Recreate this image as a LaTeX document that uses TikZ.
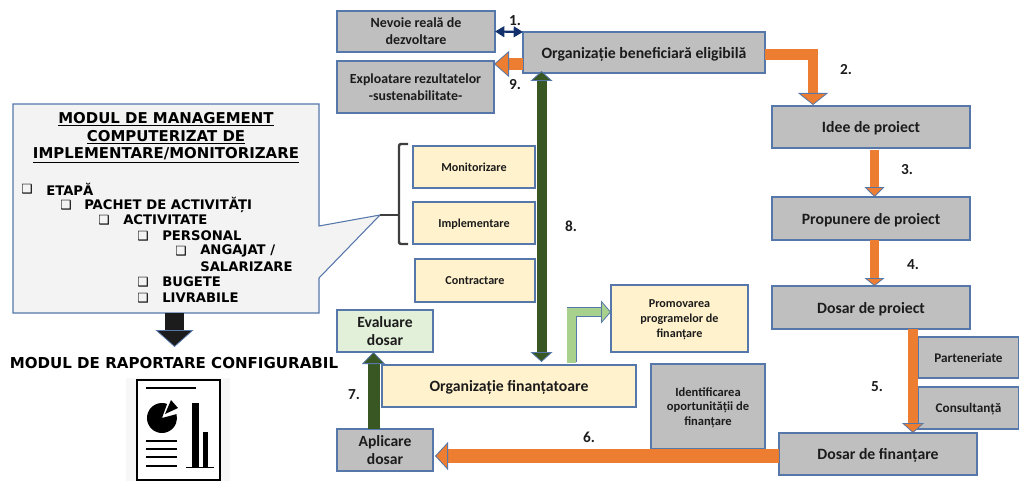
\documentclass[tikz,border=0pt]{standalone}
\usepackage{fontspec}
\setmainfont{Carlito}
\newfontfamily\heavy{DejaVu Sans}
\usetikzlibrary{arrows.meta}
\definecolor{bordc}{HTML}{5577AA}
\definecolor{greyc}{HTML}{BFBFBF}
\definecolor{yellowc}{HTML}{FFF2CC}
\definecolor{mintc}{HTML}{E2F0D9}
\definecolor{panelc}{HTML}{F3F3F3}
\definecolor{orangec}{HTML}{ED7D31}
\definecolor{forestc}{HTML}{385723}
\definecolor{navyc}{HTML}{12306B}
\definecolor{lightg}{HTML}{A9D18E}
\definecolor{inkc}{HTML}{1C1C1C}
\def\u{.75pt}
\newcommand\bx[7]{%
  \pgfmathsetmacro\bxw{(#5-#3)*.75}\pgfmathsetmacro\bxh{(#6-#4)*.75}%
  \pgfmathsetmacro\bxx{(#3+#5)/2}\pgfmathsetmacro\bxy{(#4+#6)/2}%
  \node[#2,minimum width=\bxw pt,minimum height=\bxh pt] (#1) at (\bxx,\bxy) {#7};}
\tikzset{
  boxbase/.style={draw=bordc,line width=.8pt,outer sep=0pt,inner sep=1pt,align=center,text=inkc,text depth=0pt},
  greybox/.style={boxbase,fill=greyc},
  yellowbox/.style={boxbase,fill=yellowc},
  mintbox/.style={boxbase,fill=mintc},
  numlab/.style={font=\bfseries\fontsize{11.5}{12}\selectfont,text=inkc,inner sep=0pt},
  tiporange/.style={-{Triangle[length=#1*.75pt,width=20*.75pt,fill=orangec,color=bordc,line width=.6pt]}},
  flowarrow/.style={draw=orangec,line width=9*.75pt,line join=miter},
  titleline/.style={font=\heavy\bfseries\fontsize{11.2}{12}\selectfont,inner sep=0pt,text=black},
  listline/.style={font=\heavy\bfseries\fontsize{9.9}{11}\selectfont,inner sep=0pt,anchor=west,text=black},
  chk/.style={font=\heavy\fontsize{9.5}{10}\selectfont,inner sep=0pt,text=black},
  iconline/.style={draw=black,line width=1.1pt},
}
\begin{document}
\begin{tikzpicture}[x=.75pt,y=-.75pt]
\useasboundingbox (0,0) rectangle (1019,481);
% callout
\coordinate (tip) at (380,215);
\draw[draw=bordc,line width=.8pt,fill=panelc] (13,104) -- (319,104) -- (319,226) -- (tip) -- (319,278) -- (319,313) -- (13,313) -- cycle;
\node[titleline] (t1) at (166,119) {\underline{MODUL DE MANAGEMENT}};
\node[titleline] (t2) at (166,137) {\underline{COMPUTERIZAT DE}};
\node[titleline] (t3) at (166,155) {\underline{IMPLEMENTARE/MONITORIZARE}};
\node[chk] (c1) at (27,189) {❑}; \node[listline] (l1) at (46,189) {ETAPĂ};
\node[chk] (c2) at (66,205) {❑}; \node[listline] (l2) at (84,205) {PACHET DE ACTIVITĂȚI};
\node[chk] (c3) at (104,220) {❑}; \node[listline] (l3) at (123,220) {ACTIVITATE};
\node[chk] (c4) at (143,236) {❑}; \node[listline] (l4) at (162,236) {PERSONAL};
\node[chk] (c5) at (181,251) {❑}; \node[listline] (l5) at (200,251) {ANGAJAT /};
\node[listline] (l6) at (200,267) {SALARIZARE};
\node[chk] (c7) at (143,282) {❑}; \node[listline] (l7) at (162,282) {BUGETE};
\node[chk] (c8) at (143,298) {❑}; \node[listline] (l8) at (162,298) {LIVRABILE};
% reporting
\coordinate (panelbottom) at (174.5,313);
\node[font=\heavy\bfseries\fontsize{11.3}{12}\selectfont,inner sep=0pt,text=black] (rep) at (174,363) {MODUL DE RAPORTARE CONFIGURABIL};
\coordinate (reptop) at (174.5,347);
\draw[draw=inkc,line width=19*.75pt,-{Triangle[length=17*.75pt,width=38*.75pt,fill=inkc,color=bordc,line width=.6pt]}] (panelbottom) -- (reptop);
% icon
\fill[panelc!70!white] (126,378) rectangle (230,481);
\draw[black,line width=1.6pt,fill=white] (137,380) rectangle (220,480);
\draw[iconline,line width=1.6pt] (146,388) -- (196,388);
\fill[black] (162,418) -- (167.1,403.9) arc[start angle=-70,end angle=-375,radius=15] -- cycle;
\fill[black] (165,414) -- (171,400) -- (178,408) -- cycle;
\fill[black] (192,403) rectangle (199,467);
\fill[black] (203,432) rectangle (208,467);
\draw[black,line width=.6pt] (186,467) -- (214,467);
\foreach \yy in {441,449,457,466} \draw[iconline] (146,\yy) -- (177,\yy);
% top boxes
\bx{nev}{greybox,font=\bfseries\fontsize{10.5}{12.8}\selectfont}{337}{11}{495}{52}{Nevoie reală de\\dezvoltare}
\bx{expl}{greybox,font=\bfseries\fontsize{10.4}{12.5}\selectfont}{337}{61}{494}{113}{Exploatare rezultatelor\\-sustenabilitate-}
\bx{org}{greybox,font=\bfseries\fontsize{11.8}{13}\selectfont}{523}{32}{765}{73}{Organizație beneficiară eligibilă}
\bx{idee}{greybox,font=\bfseries\fontsize{11.8}{13}\selectfont}{772}{106}{970}{148}{Idee de proiect}
\bx{prop}{greybox,font=\bfseries\fontsize{11.8}{13}\selectfont}{772}{197}{970}{240}{Propunere de proiect}
\bx{dosp}{greybox,font=\bfseries\fontsize{11.8}{13}\selectfont}{772}{286}{970}{329}{Dosar de proiect}
\bx{part}{greybox,font=\bfseries\fontsize{9.9}{12}\selectfont}{918}{337}{1019}{378}{Parteneriate}
\bx{cons}{greybox,font=\bfseries\fontsize{9.9}{12}\selectfont}{918}{387}{1019}{429}{Consultanță}
\bx{dosf}{greybox,font=\bfseries\fontsize{11.8}{13}\selectfont}{779}{433}{977}{475}{Dosar de finanțare}
\bx{ident}{greybox,font=\bfseries\fontsize{9.4}{11}\selectfont}{651}{364}{765}{449}{Identificarea\\oportunității de\\finanțare}
\bx{mon}{yellowbox,font=\bfseries\fontsize{9.1}{10}\selectfont}{413}{146}{535}{188}{Monitorizare}
\bx{impl}{yellowbox,font=\bfseries\fontsize{9.1}{10}\selectfont}{413}{202}{535}{244}{Implementare}
\bx{contr}{yellowbox,font=\bfseries\fontsize{9.1}{10}\selectfont}{415}{259}{535}{302}{Contractare}
\bx{promo}{yellowbox,font=\bfseries\fontsize{9.1}{11}\selectfont}{611}{285}{748}{352}{Promovarea\\programelor de\\finanțare}
\bx{orgf}{yellowbox,font=\bfseries\fontsize{11.8}{13}\selectfont}{382}{365}{636}{407}{Organizație finanțatoare}
\bx{eval}{mintbox,font=\bfseries\fontsize{11.7}{14}\selectfont}{337}{310}{433}{352}{Evaluare\\dosar}
\bx{apl}{greybox,font=\bfseries\fontsize{11.7}{14}\selectfont}{337}{429}{433}{471}{Aplicare\\dosar}
% brace
\coordinate (brace) at (398,215);
\draw[draw=inkc!85!white,line width=1.8pt,rounded corners=1.5pt] (408,144) -- (399,144) -- (399,244) -- (408,244);
\draw[draw=inkc!85!white,line width=1.8pt] (tip) -- (brace);
% arrows
\draw[navyc,line width=1.6pt,{Triangle[length=7pt,width=8pt]}-{Triangle[length=7pt,width=8pt]}] (nev.east) -- (org.north west);
\draw[flowarrow,line width=10.5*.75pt,-{Triangle[length=12*.75pt,width=30*.75pt,fill=orangec,color=bordc,line width=.6pt]}] ([yshift=-2*\u]org.east) -| ([xshift=-58*\u,yshift=1*\u]idee.north);
\draw[flowarrow,line width=12*.75pt,-{Triangle[length=15*.75pt,width=26*.75pt,fill=orangec,color=bordc,line width=.6pt]}] ([yshift=-11.5*\u]org.west) -- ([yshift=-3*\u]expl.north east);
\draw[flowarrow,tiporange=10] ([xshift=3.5*\u,yshift=-2*\u]idee.south) -- ([xshift=3.5*\u]prop.north);
\draw[flowarrow,tiporange=8] ([xshift=3.5*\u]prop.south) -- ([xshift=3.5*\u]dosp.north);
\draw[flowarrow,line width=10*.75pt,-{Triangle[length=10*.75pt,width=22*.75pt,fill=orangec,color=bordc,line width=.6pt]}] ([xshift=42*\u]dosp.south) -- ([xshift=35*\u]dosf.north);
\draw[flowarrow,line width=14*.75pt,-{Triangle[length=13*.75pt,width=28*.75pt,fill=orangec,color=bordc,line width=.6pt]}] ([yshift=-2*\u]dosf.west) -- ([xshift=2*\u,yshift=-6*\u]apl.east);
\draw[draw=forestc,line width=12*.75pt,-{Triangle[length=12*.75pt,width=23*.75pt,fill=forestc,color=bordc,line width=.6pt]}] ([xshift=-11.5*\u]apl.north) -- ([xshift=-11.5*\u]eval.south);
\draw[draw=forestc,line width=10*.75pt,{Triangle[length=10*.75pt,width=22*.75pt,fill=forestc,color=bordc,line width=.6pt]}-{Triangle[length=10*.75pt,width=22*.75pt,fill=forestc,color=bordc,line width=.6pt]}] ([xshift=32.5*\u,yshift=3*\u]orgf.north) -- ([xshift=-102.5*\u,yshift=2*\u]org.south);
\draw[draw=bordc,line width=10*.75pt,line join=miter,shorten >=9*.75pt] ([xshift=62.5*\u,yshift=3*\u]orgf.north) |- ([yshift=6.5*\u]promo.west);
\draw[draw=lightg,line width=8.5*.75pt,line join=miter,-{Triangle[length=10*.75pt,width=23*.75pt,fill=lightg,color=bordc,line width=.6pt]}] ([xshift=62.5*\u,yshift=2.5*\u]orgf.north) |- ([yshift=6.5*\u]promo.west);
% numbers
\node[numlab] (n1) at (515,21) {1.};
\node[numlab] (n2) at (846,70) {2.};
\node[numlab] (n3) at (907,170) {3.};
\node[numlab] (n4) at (913,265) {4.};
\node[numlab] (n5) at (877,387) {5.};
\node[numlab] (n6) at (589,437) {6.};
\node[numlab] (n7) at (354,395) {7.};
\node[numlab] (n8) at (571,226) {8.};
\node[numlab] (n9) at (515,85) {9.};
\end{tikzpicture}
\end{document}
